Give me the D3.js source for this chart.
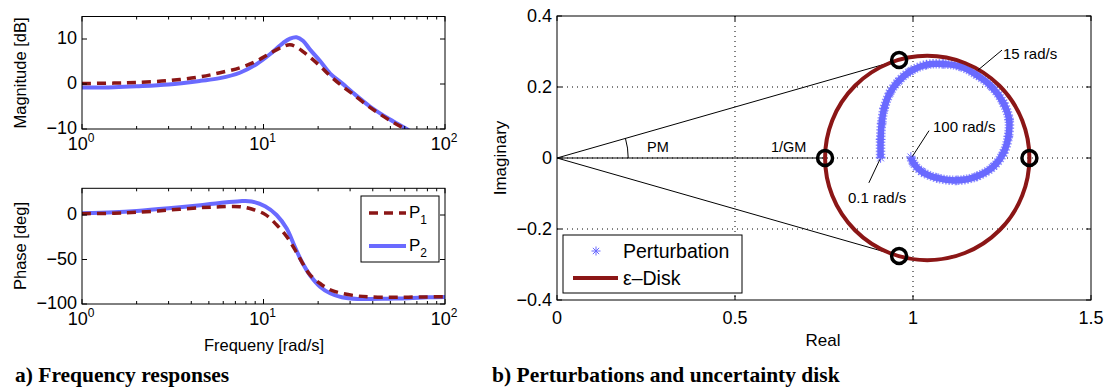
<!DOCTYPE html>
<html>
<head>
<meta charset="utf-8">
<script src="https://cdn.jsdelivr.net/npm/d3@7"></script>
<style>
  body { margin: 0; background: #fff; }
  svg text { font-family: "Liberation Sans", Arial, Helvetica, sans-serif; fill: #000; }
  .caption { font-family: "Liberation Serif", "Times New Roman", serif; font-weight: bold; font-size: 21.5px; }
</style>
</head>
<body>
<svg id="chart" width="1106" height="388"></svg>
<script>
// ---- data ----
var magFreq = [1, 1.5, 2, 3, 4.5, 5.75, 7.41, 9.14, 10.85, 12.8, 14, 15.2, 16.5, 18, 20.5, 23.3, 27, 31, 38.6, 49.8, 62.8, 80, 100];
var magP1 = [0.1, 0.2, 0.35, 0.75, 1.6, 2.5, 3.6, 5.1, 6.8, 8.3, 8.7, 8.2, 7.2, 6.0, 4.0, 1.8, -0.4, -2.2, -5.2, -8.1, -10.4, -13, -15.5];
var magP2 = [-0.8, -0.7, -0.5, -0.1, 0.7, 1.3, 2.5, 4.4, 6.6, 9.1, 10.1, 10.4, 9.6, 7.7, 5.1, 2.3, 0.2, -1.9, -5.0, -7.9, -10.2, -12.8, -15.3];

var phaseFreq = [1, 1.5, 2, 3, 4.5, 5.75, 7.41, 8.6, 10.2, 11.8, 13.4, 14.9, 16.4, 18, 20.5, 23.3, 27, 33, 38.6, 49.8, 62.8, 80, 100];
var phaseP1 = [1.5, 2, 3, 5.5, 8.2, 9.2, 9.4, 6.7, 0.7, -11, -24, -39, -54, -67, -77, -84, -88, -91, -92, -92.5, -92.3, -92, -91.8];
var phaseP2 = [2, 3, 4.5, 7.5, 11, 13.5, 15.5, 15.2, 9.8, 0, -15, -36, -54, -67.4, -80.5, -88, -92.5, -94.4, -94.4, -94, -93.5, -92.5, -92];

var magTicks = [-10, 0, 10];
var phaseTicks = [-100, -50, 0];
var decadeTicks = [1, 10, 100];

// perturbation locus, 0.1 rad/s -> 100 rad/s
var pertReal = [0.909, 0.909, 0.912, 0.919, 0.935, 0.959, 0.992, 1.038, 1.085, 1.132, 1.179, 1.221, 1.254, 1.270, 1.268, 1.254, 1.226, 1.179, 1.123, 1.067, 1.024, 1.001, 0.994];
var pertImag = [0.0, 0.052, 0.098, 0.140, 0.183, 0.216, 0.244, 0.263, 0.265, 0.258, 0.234, 0.201, 0.155, 0.108, 0.061, 0.014, -0.024, -0.052, -0.063, -0.056, -0.038, -0.014, 0.003];

var diskCenter = 1.04, diskRadius = 0.287;
var marginReal = [0.753, 1.327, 0.961, 0.961];
var marginImag = [0, 0, 0.276, -0.276];

var realTicks = [0, 0.5, 1, 1.5];
var imagTicks = [-0.4, -0.2, 0, 0.2, 0.4];

var redColor = '#8b1616', blueColor = '#6a6aff';

var svg = d3.select('#chart');
svg.append('rect').attr('width', 1106).attr('height', 388).attr('fill', '#fff');

function minusFmt(v) {
    return String(v).replace('-', '\u2212');
}

// ================= left: bode plots =================
var bx0 = 82, bx1 = 445;
var xLog = d3.scaleLog().domain([1, 100]).range([bx0, bx1]);
var yMag = d3.scaleLinear().domain([-10, 15]).range([129, 16.5]);
var yPh = d3.scaleLinear().domain([-100, 30]).range([304, 188.3]);

function bodePanel(y, yTicks, xs, s1, s2, clipId) {
    var top = y.range()[1], bot = y.range()[0];
    var g = svg.append('g');

    g.append('clipPath').attr('id', clipId)
        .append('rect').attr('x', bx0).attr('y', top).attr('width', bx1 - bx0).attr('height', bot - top);

    var line = d3.line()
        .x(function (d) { return xLog(d[0]); })
        .y(function (d) { return y(d[1]); })
        .curve(d3.curveCatmullRom.alpha(0.5));

    var plot = g.append('g').attr('clip-path', 'url(#' + clipId + ')');
    plot.append('path')
        .attr('d', line(d3.zip(xs, s2)))
        .attr('fill', 'none').attr('stroke', blueColor).attr('stroke-width', 4);
    plot.append('path')
        .attr('d', line(d3.zip(xs, s1)))
        .attr('fill', 'none').attr('stroke', redColor).attr('stroke-width', 3.5)
        .attr('stroke-dasharray', '9,6');

    // inward ticks, minor ones on the log axis are shorter
    var minor = xLog.ticks().filter(function (d) { return decadeTicks.indexOf(d) < 0; });
    [[bot, -1], [top, 1]].forEach(function (p) {
        g.selectAll(null).data(minor).enter().append('line')
            .attr('x1', function (d) { return xLog(d); }).attr('x2', function (d) { return xLog(d); })
            .attr('y1', p[0]).attr('y2', p[0] + p[1] * 3)
            .attr('stroke', '#000').attr('stroke-width', 1);
        g.selectAll(null).data(decadeTicks).enter().append('line')
            .attr('x1', function (d) { return xLog(d); }).attr('x2', function (d) { return xLog(d); })
            .attr('y1', p[0]).attr('y2', p[0] + p[1] * 5)
            .attr('stroke', '#000').attr('stroke-width', 1);
    });
    [[bx0, 1], [bx1, -1]].forEach(function (p) {
        g.selectAll(null).data(yTicks).enter().append('line')
            .attr('x1', p[0]).attr('x2', p[0] + p[1] * 5)
            .attr('y1', function (d) { return y(d); }).attr('y2', function (d) { return y(d); })
            .attr('stroke', '#000').attr('stroke-width', 1);
    });

    g.append('rect')
        .attr('x', bx0).attr('y', top).attr('width', bx1 - bx0).attr('height', bot - top)
        .attr('fill', 'none').attr('stroke', '#000').attr('stroke-width', 1);

    // tick labels
    g.selectAll(null).data(yTicks).enter().append('text')
        .attr('x', bx0 - 5).attr('y', function (d) { return y(d); })
        .attr('dy', '0.3em').attr('text-anchor', 'end')
        .style('font-size', '18px')
        .text(minusFmt);

    var xl = g.selectAll(null).data(decadeTicks).enter().append('text')
        .attr('x', function (d) { return xLog(d) - 1; }).attr('y', bot + 21)
        .attr('text-anchor', 'middle')
        .style('font-size', '18px');
    xl.append('tspan').text('10');
    xl.append('tspan').attr('dy', -8).style('font-size', '12px')
        .text(function (d) { return Math.round(Math.log10(d)); });
    return g;
}

bodePanel(yMag, magTicks, magFreq, magP1, magP2, 'clipMag');
bodePanel(yPh, phaseTicks, phaseFreq, phaseP1, phaseP2, 'clipPh');

svg.append('text').attr('transform', 'translate(26,73) rotate(-90)')
    .attr('text-anchor', 'middle').style('font-size', '16.5px').text('Magnitude [dB]');
svg.append('text').attr('transform', 'translate(26,246) rotate(-90)')
    .attr('text-anchor', 'middle').style('font-size', '16.5px').text('Phase [deg]');
svg.append('text').attr('x', 264).attr('y', 351)
    .attr('text-anchor', 'middle').style('font-size', '16.5px').text('Frequeny [rad/s]');

// bode legend
var lg = svg.append('g');
lg.append('rect').attr('x', 361).attr('y', 196).attr('width', 78).attr('height', 66)
    .attr('fill', '#fff').attr('stroke', '#000').attr('stroke-width', 1);
[['1', redColor, '9,6', 3.5, 213], ['2', blueColor, null, 4, 246]].forEach(function (e) {
    lg.append('line').attr('x1', 369).attr('x2', 406).attr('y1', e[4]).attr('y2', e[4])
        .attr('stroke', e[1]).attr('stroke-width', e[3]).attr('stroke-dasharray', e[2]);
    var t = lg.append('text').attr('x', 409).attr('y', e[4] + 5).style('font-size', '17px');
    t.append('tspan').text('P');
    t.append('tspan').attr('dy', 6).style('font-size', '12px').text(e[0]);
});

// ================= right: nyquist plane =================
var xR = d3.scaleLinear().domain([0, 1.5]).range([557, 1091]);
var yR = d3.scaleLinear().domain([-0.4, 0.4]).range([300, 16]);
var rg = svg.append('g');

// dotted grid
rg.selectAll(null).data(realTicks.slice(1, -1)).enter().append('line')
    .attr('x1', function (d) { return xR(d); }).attr('x2', function (d) { return xR(d); })
    .attr('y1', yR(0.4)).attr('y2', yR(-0.4))
    .attr('stroke', '#000').attr('stroke-width', 1).attr('stroke-dasharray', '1,4');
rg.selectAll(null).data(imagTicks.slice(1, -1)).enter().append('line')
    .attr('x1', xR(0)).attr('x2', xR(1.5))
    .attr('y1', function (d) { return yR(d); }).attr('y2', function (d) { return yR(d); })
    .attr('stroke', '#000').attr('stroke-width', 1).attr('stroke-dasharray', '1,4');

// gain / phase margin construction
rg.append('line').attr('x1', xR(0)).attr('y1', yR(0)).attr('x2', xR(marginReal[0])).attr('y2', yR(0))
    .attr('stroke', '#000').attr('stroke-width', 1);
[2, 3].forEach(function (i) {
    rg.append('line').attr('x1', xR(0)).attr('y1', yR(0))
        .attr('x2', xR(marginReal[i])).attr('y2', yR(marginImag[i]))
        .attr('stroke', '#000').attr('stroke-width', 1);
});
var pmAngle = Math.atan2(marginImag[2], marginReal[2]);
var arcR = xR(0.2) - xR(0);
var arcPath = d3.path();
arcPath.arc(xR(0), yR(0), arcR, -pmAngle, 0);
rg.append('path').attr('d', arcPath.toString()).attr('fill', 'none')
    .attr('stroke', '#000').attr('stroke-width', 1);
rg.append('text').attr('x', 647).attr('y', 152).style('font-size', '14.5px').text('PM');
rg.append('text').attr('x', 771).attr('y', 152).style('font-size', '14.5px').text('1/GM');

// perturbation locus
var pertLine = d3.line()
    .x(function (d) { return xR(d[0]); })
    .y(function (d) { return yR(d[1]); })
    .curve(d3.curveCatmullRom);
var pertPts = d3.zip(pertReal, pertImag);
rg.append('path').attr('d', pertLine(pertPts)).attr('fill', 'none')
    .attr('stroke', blueColor).attr('stroke-width', 9.5).attr('stroke-dasharray', '1.5,1.5')
    .attr('opacity', 0.7);
rg.append('path').attr('d', pertLine(pertPts)).attr('fill', 'none')
    .attr('stroke', blueColor).attr('stroke-width', 6.5);

function star(g, cx, cy, s) {
    var p = d3.path();
    p.moveTo(cx - s, cy); p.lineTo(cx + s, cy);
    p.moveTo(cx, cy - s); p.lineTo(cx, cy + s);
    p.moveTo(cx - s * 0.7, cy - s * 0.7); p.lineTo(cx + s * 0.7, cy + s * 0.7);
    p.moveTo(cx - s * 0.7, cy + s * 0.7); p.lineTo(cx + s * 0.7, cy - s * 0.7);
    g.append('path').attr('d', p.toString()).attr('stroke', blueColor).attr('stroke-width', 1).attr('fill', 'none');
}
pertPts.forEach(function (d) { star(rg, xR(d[0]), yR(d[1]), 4.8); });

// uncertainty disk
rg.append('circle').attr('cx', xR(diskCenter)).attr('cy', yR(0))
    .attr('r', xR(diskCenter + diskRadius) - xR(diskCenter))
    .attr('fill', 'none').attr('stroke', redColor).attr('stroke-width', 4);

// margin markers
rg.selectAll(null).data(d3.zip(marginReal, marginImag)).enter().append('circle')
    .attr('cx', function (d) { return xR(d[0]); }).attr('cy', function (d) { return yR(d[1]); })
    .attr('r', 7.5).attr('fill', 'none').attr('stroke', '#000').attr('stroke-width', 3.5);

// frequency annotations
var notes = [
    { text: '15 rad/s', from: [1.183, 0.248], to: [1.25, 0.304], tx: 1003, ty: 59 },
    { text: '100 rad/s', from: [0.998, 0.004], to: [1.045, 0.077], tx: 933, ty: 132 },
    { text: '0.1 rad/s', from: [0.907, -0.004], to: [0.876, -0.07], tx: 848, ty: 203 }
];
notes.forEach(function (n) {
    rg.append('line').attr('x1', xR(n.from[0])).attr('y1', yR(n.from[1]))
        .attr('x2', xR(n.to[0])).attr('y2', yR(n.to[1]))
        .attr('stroke', '#000').attr('stroke-width', 1);
    rg.append('text').attr('x', n.tx).attr('y', n.ty).style('font-size', '15px').text(n.text);
});

// ticks and frame
[[yR(-0.4), -1], [yR(0.4), 1]].forEach(function (p) {
    rg.selectAll(null).data(realTicks).enter().append('line')
        .attr('x1', function (d) { return xR(d); }).attr('x2', function (d) { return xR(d); })
        .attr('y1', p[0]).attr('y2', p[0] + p[1] * 5)
        .attr('stroke', '#000').attr('stroke-width', 1);
});
[[xR(0), 1], [xR(1.5), -1]].forEach(function (p) {
    rg.selectAll(null).data(imagTicks).enter().append('line')
        .attr('x1', p[0]).attr('x2', p[0] + p[1] * 5)
        .attr('y1', function (d) { return yR(d); }).attr('y2', function (d) { return yR(d); })
        .attr('stroke', '#000').attr('stroke-width', 1);
});
rg.append('rect').attr('x', xR(0)).attr('y', yR(0.4))
    .attr('width', xR(1.5) - xR(0)).attr('height', yR(-0.4) - yR(0.4))
    .attr('fill', 'none').attr('stroke', '#000').attr('stroke-width', 1);

rg.selectAll(null).data(imagTicks).enter().append('text')
    .attr('x', xR(0) - 5).attr('y', function (d) { return yR(d); })
    .attr('dy', '0.35em').attr('text-anchor', 'end').style('font-size', '18px')
    .text(minusFmt);
rg.selectAll(null).data(realTicks).enter().append('text')
    .attr('x', function (d) { return xR(d); }).attr('y', yR(-0.4) + 24)
    .attr('text-anchor', 'middle').style('font-size', '18px')
    .text(minusFmt);

svg.append('text').attr('transform', 'translate(506,158) rotate(-90)')
    .attr('text-anchor', 'middle').style('font-size', '17px').text('Imaginary');
svg.append('text').attr('x', 823).attr('y', 346)
    .attr('text-anchor', 'middle').style('font-size', '17px').text('Real');

// nyquist legend
var rl = svg.append('g');
rl.append('rect').attr('x', 563).attr('y', 235).attr('width', 179).attr('height', 58)
    .attr('fill', '#fff').attr('stroke', '#000').attr('stroke-width', 1);
star(rl, 596, 251, 4.5);
rl.append('text').attr('x', 623).attr('y', 258).style('font-size', '19.5px').text('Perturbation');
rl.append('line').attr('x1', 573).attr('x2', 618).attr('y1', 278).attr('y2', 278)
    .attr('stroke', redColor).attr('stroke-width', 4);
rl.append('text').attr('x', 623).attr('y', 285).style('font-size', '19.5px').text('\u03b5\u2013Disk');

// captions
svg.append('text').attr('class', 'caption').attr('x', 15).attr('y', 382).text('a) Frequency responses');
svg.append('text').attr('class', 'caption').attr('x', 492).attr('y', 382).text('b) Perturbations and uncertainty disk');
</script>
</body>
</html>
